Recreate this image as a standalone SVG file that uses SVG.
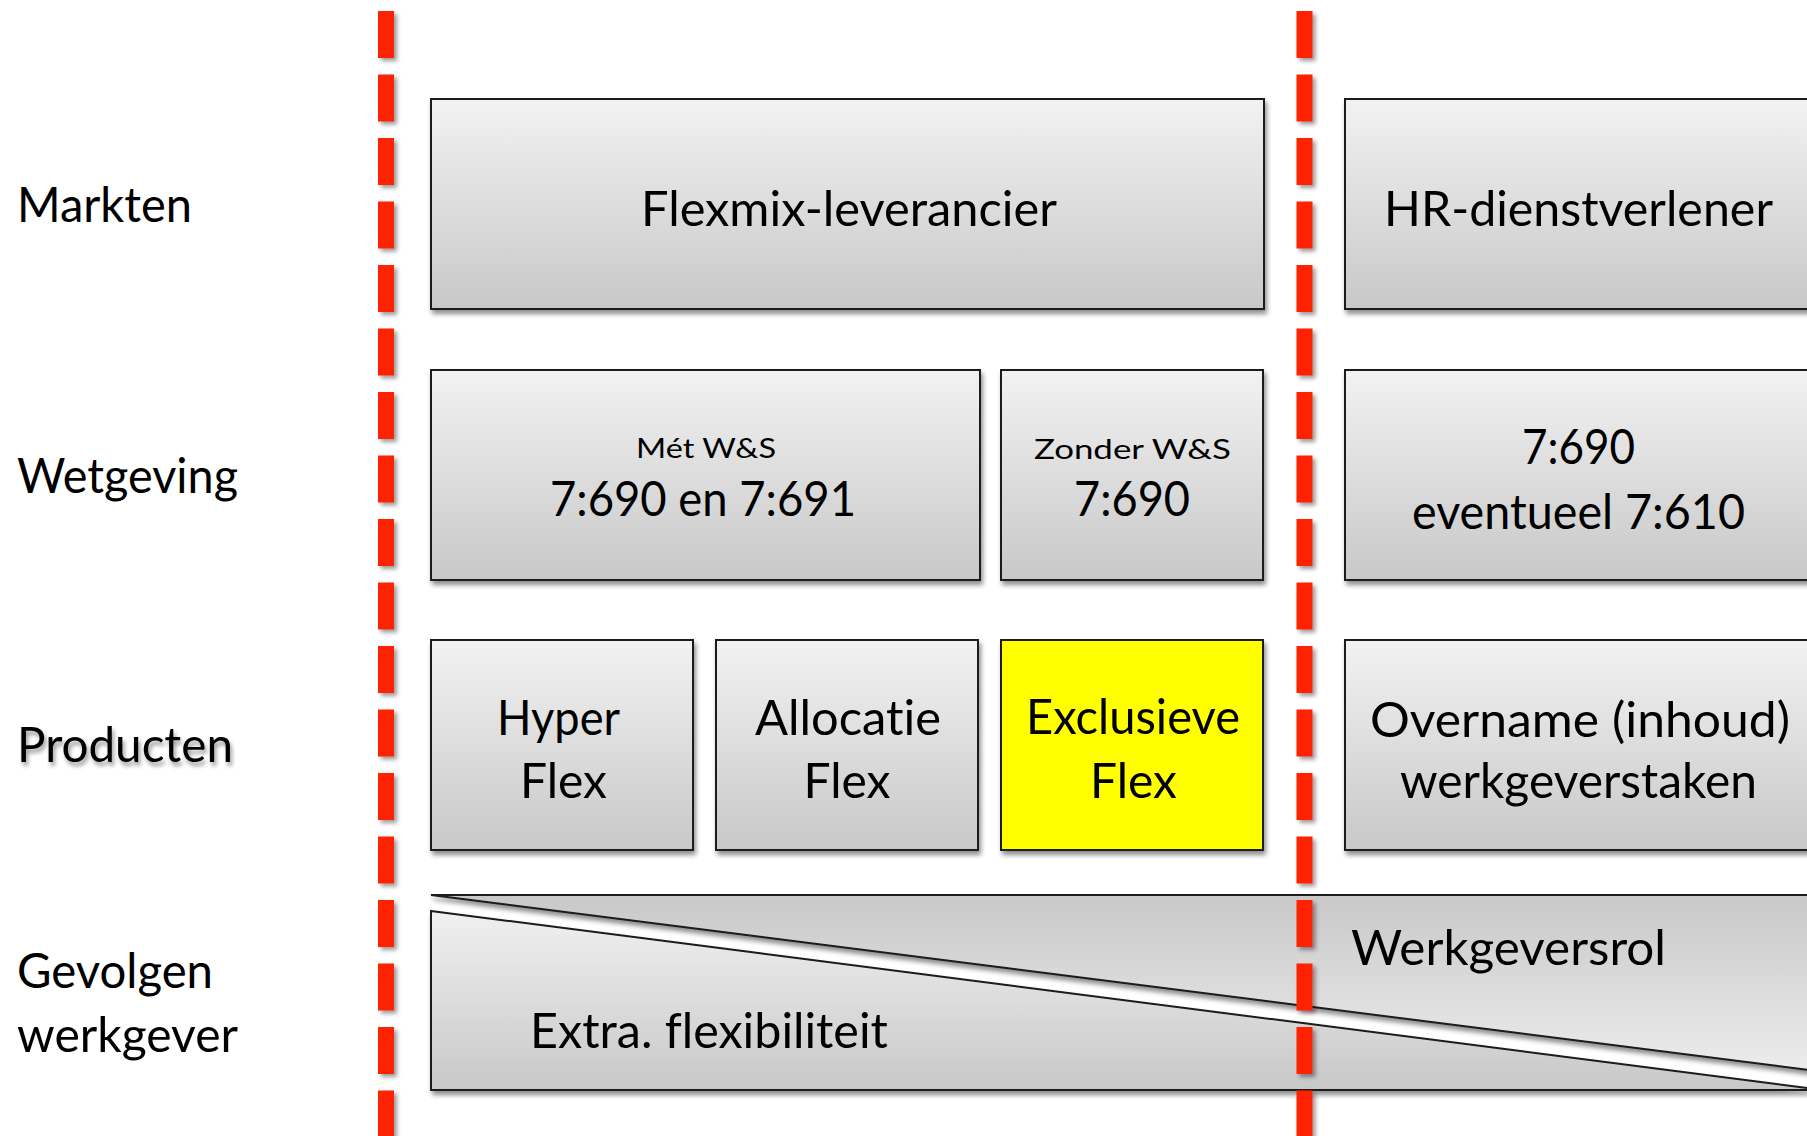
<svg xmlns="http://www.w3.org/2000/svg" width="1807" height="1136" viewBox="0 0 1807 1136">
<style>
  .box { stroke: #1a1a1a; stroke-width: 2; fill: url(#gBox); filter: url(#shadow); }
  .yellow { fill: #ffff00; }
  .t { font-family: Lato, "Liberation Sans", sans-serif; fill: #000; font-variant-ligatures: none; font-feature-settings: "liga" 0, "dlig" 0; }
  .big { font-size: 49px; }
  .lbl { font-size: 48px; }
  .small { font-size: 26px; }
  .mid { text-anchor: middle; }
  .sep { stroke: #ff2400; stroke-width: 16; stroke-dasharray: 47 16.5; fill: none; filter: url(#shadowSep); }
</style>
<defs>
  <linearGradient id="gBox" x1="0" y1="0" x2="0" y2="1">
    <stop offset="0" stop-color="#f2f2f2"/>
    <stop offset="1" stop-color="#c8c8c8"/>
  </linearGradient>
  <linearGradient id="gUp" gradientUnits="userSpaceOnUse" x1="0" y1="895" x2="0" y2="1090">
    <stop offset="0" stop-color="#c8c8c8"/>
    <stop offset="1" stop-color="#f0f0f0"/>
  </linearGradient>
  <linearGradient id="gLow" gradientUnits="userSpaceOnUse" x1="0" y1="911" x2="0" y2="1090">
    <stop offset="0" stop-color="#f0f0f0"/>
    <stop offset="1" stop-color="#c8c8c8"/>
  </linearGradient>
  <filter id="shadow" x="-5%" y="-10%" width="115%" height="130%">
    <feGaussianBlur in="SourceAlpha" stdDeviation="2.5"/>
    <feOffset dx="2" dy="4" result="b"/>
    <feComponentTransfer><feFuncA type="linear" slope="0.45"/></feComponentTransfer>
    <feMerge><feMergeNode/><feMergeNode in="SourceGraphic"/></feMerge>
  </filter>
  <filter id="shadowSep" filterUnits="userSpaceOnUse" x="0" y="0" width="1807" height="1136">
    <feGaussianBlur in="SourceAlpha" stdDeviation="2"/>
    <feOffset dx="3" dy="3" result="b"/>
    <feComponentTransfer><feFuncA type="linear" slope="0.4"/></feComponentTransfer>
    <feMerge><feMergeNode/><feMergeNode in="SourceGraphic"/></feMerge>
  </filter>
  <filter id="textShadow" x="-10%" y="-30%" width="120%" height="160%">
    <feGaussianBlur in="SourceAlpha" stdDeviation="2"/>
    <feOffset dx="2" dy="4"/>
    <feComponentTransfer><feFuncA type="linear" slope="0.4"/></feComponentTransfer>
    <feMerge><feMergeNode/><feMergeNode in="SourceGraphic"/></feMerge>
  </filter>
</defs>
<rect width="1807" height="1136" fill="#ffffff"/>

<g id="row-labels">
  <text class="t lbl" x="17" y="222" textLength="175" lengthAdjust="spacingAndGlyphs">Markten</text>
  <text class="t lbl" x="17" y="493" textLength="221" lengthAdjust="spacingAndGlyphs">Wetgeving</text>
  <text class="t lbl" x="17" y="762" textLength="216" lengthAdjust="spacingAndGlyphs" filter="url(#textShadow)">Producten</text>
  <text class="t lbl" x="17" y="988" textLength="196" lengthAdjust="spacingAndGlyphs">Gevolgen</text>
  <text class="t lbl" x="17" y="1052" textLength="221" lengthAdjust="spacingAndGlyphs">werkgever</text>
</g>

<g id="flexmix-leverancier">
  <rect class="box" x="431" y="99" width="833" height="210"/>
  <text class="t big mid" x="849" y="226" textLength="416" lengthAdjust="spacingAndGlyphs">Flexmix-leverancier</text>
</g>
<g id="hr-dienstverlener">
  <rect class="box" x="1345" y="99" width="470" height="210"/>
  <text class="t big mid" x="1578.5" y="226" textLength="389" lengthAdjust="spacingAndGlyphs">HR-dienstverlener</text>
</g>

<g id="met-ws">
  <rect class="box" x="431" y="370" width="549" height="210"/>
  <text class="t small mid" x="706" y="458" textLength="140" lengthAdjust="spacingAndGlyphs">Mét W&amp;S</text>
  <text class="t big mid" x="703" y="516" textLength="306" lengthAdjust="spacingAndGlyphs">7:690 en 7:691</text>
</g>
<g id="zonder-ws">
  <rect class="box" x="1001" y="370" width="262" height="210"/>
  <text class="t small mid" x="1132.5" y="459" textLength="197" lengthAdjust="spacingAndGlyphs">Zonder W&amp;S</text>
  <text class="t big mid" x="1132" y="516" textLength="116" lengthAdjust="spacingAndGlyphs">7:690</text>
</g>
<g id="hr-wetgeving">
  <rect class="box" x="1345" y="370" width="470" height="210"/>
  <text class="t big mid" x="1578.5" y="464" textLength="113" lengthAdjust="spacingAndGlyphs">7:690</text>
  <text class="t big mid" x="1578.5" y="529" textLength="333" lengthAdjust="spacingAndGlyphs">eventueel 7:610</text>
</g>

<g id="hyper-flex">
  <rect class="box" x="431" y="640" width="262" height="210"/>
  <text class="t big mid" x="558.5" y="735" textLength="123" lengthAdjust="spacingAndGlyphs">Hyper</text>
  <text class="t big mid" x="563.5" y="798" textLength="87" lengthAdjust="spacingAndGlyphs">Flex</text>
</g>
<g id="allocatie-flex">
  <rect class="box" x="716" y="640" width="262" height="210"/>
  <text class="t big mid" x="848" y="735" textLength="186" lengthAdjust="spacingAndGlyphs">Allocatie</text>
  <text class="t big mid" x="847" y="798" textLength="87" lengthAdjust="spacingAndGlyphs">Flex</text>
</g>
<g id="exclusieve-flex">
  <rect class="box yellow" x="1001" y="640" width="262" height="210"/>
  <text class="t big mid" x="1133" y="734" textLength="214" lengthAdjust="spacingAndGlyphs">Exclusieve</text>
  <text class="t big mid" x="1133.5" y="798" textLength="87" lengthAdjust="spacingAndGlyphs">Flex</text>
</g>
<g id="overname-werkgeverstaken">
  <rect class="box" x="1345" y="640" width="470" height="210"/>
  <text class="t big mid" x="1580" y="737" textLength="420" lengthAdjust="spacingAndGlyphs">Overname (inhoud)</text>
  <text class="t big mid" x="1578.5" y="798" textLength="357" lengthAdjust="spacingAndGlyphs">werkgeverstaken</text>
</g>

<g id="werkgeversrol">
  <polygon points="431,895 1990,895 1990,1093" fill="url(#gUp)" stroke="#1a1a1a" stroke-width="2" filter="url(#shadow)"/>
  <text class="t big" x="1351" y="965" textLength="315" lengthAdjust="spacingAndGlyphs">Werkgeversrol</text>
</g>
<g id="extra-flexibiliteit">
  <polygon points="431,911 1823,1090 431,1090" fill="url(#gLow)" stroke="#1a1a1a" stroke-width="2" filter="url(#shadow)"/>
  <text class="t big" x="530" y="1048" textLength="358" lengthAdjust="spacingAndGlyphs">Extra. flexibiliteit</text>
</g>

<g id="connectors">
  <line class="sep" x1="386" y1="11" x2="386" y2="1136"/>
  <line class="sep" x1="1304.5" y1="11" x2="1304.5" y2="1136"/>
</g>
</svg>
